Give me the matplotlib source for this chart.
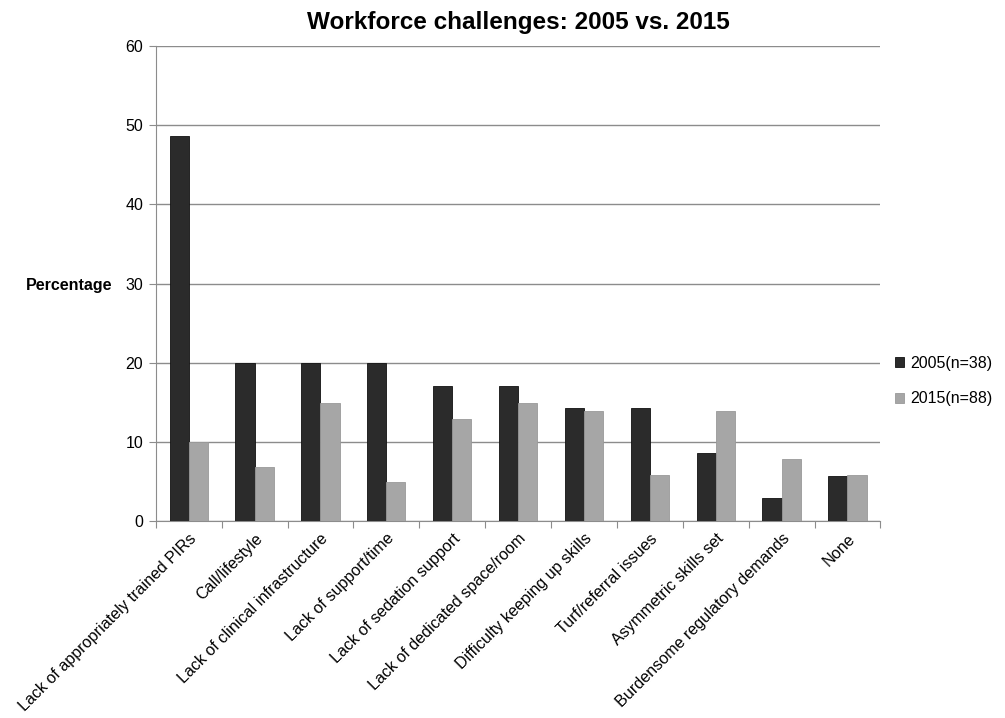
import numpy as np
import matplotlib
matplotlib.use("Agg")
import matplotlib.pyplot as plt

categories = [
    "Lack of appropriately trained PIRs",
    "Call/lifestyle",
    "Lack of clinical infrastructure",
    "Lack of support/time",
    "Lack of sedation support",
    "Lack of dedicated space/room",
    "Difficulty keeping up skills",
    "Turf/referral issues",
    "Asymmetric skills set",
    "Burdensome regulatory demands",
    "None",
]
values_2005 = [48.6, 20.0, 20.0, 20.0, 17.1, 17.1, 14.3, 14.3, 8.6, 2.9, 5.7]
values_2015 = [10.0, 6.9, 14.9, 4.9, 12.9, 14.9, 13.9, 5.9, 13.9, 7.9, 5.9]
series_labels = ["2005(n=38)", "2015(n=88)"]

plt.rcParams["font.family"] = ["Liberation Sans", "DejaVu Sans"]

fig = plt.figure(figsize=(10.05, 7.18), dpi=100)
ax = fig.add_axes([0.155, 0.274, 0.721, 0.662])

x = np.arange(len(categories))
w = 0.29
ax.bar(x - w / 2, values_2005, w, color="#2b2b2b", edgecolor="#111111",
       linewidth=0.6, label=series_labels[0], zorder=3)
ax.bar(x + w / 2, values_2015, w, color="#a6a6a6", edgecolor="#999999",
       linewidth=0.6, label=series_labels[1], zorder=3)

ax.set_xlim(-0.5, len(categories) - 0.5)
ax.set_ylim(0, 60)
ax.set_yticks(range(0, 61, 10))
ax.yaxis.grid(True, color="#8c8c8c", linewidth=1.0, zorder=0)
ax.tick_params(axis="y", labelsize=11.5, length=5, color="#8c8c8c", pad=4)

# category boundaries as ticks, labels at centres
ax.set_xticks(np.arange(-0.5, len(categories), 1.0))
ax.set_xticklabels([])
ax.set_xticks(x, minor=True)
ax.set_xticklabels(categories, minor=True, rotation=45, ha="right",
                   rotation_mode="anchor", fontsize=11.6)
ax.tick_params(axis="x", which="major", length=5, color="#8c8c8c")
ax.tick_params(axis="x", which="minor", length=0, pad=7)

for s in ["top", "right"]:
    ax.spines[s].set_visible(False)
for s in ["left", "bottom"]:
    ax.spines[s].set_color("#8c8c8c")

ax.set_title("Workforce challenges: 2005 vs. 2015", fontsize=17.5,
             fontweight="bold", pad=12)
fig.text(0.112, 0.603, "Percentage", fontsize=11.5, fontweight="bold",
         ha="right", va="center")

ax.legend(loc="center left", bbox_to_anchor=(1.0, 0.295), frameon=False,
          fontsize=11.5, handlelength=0.6, handleheight=0.6,
          handletextpad=0.4, labelspacing=1.3)

fig.savefig("out.png", dpi=100)
